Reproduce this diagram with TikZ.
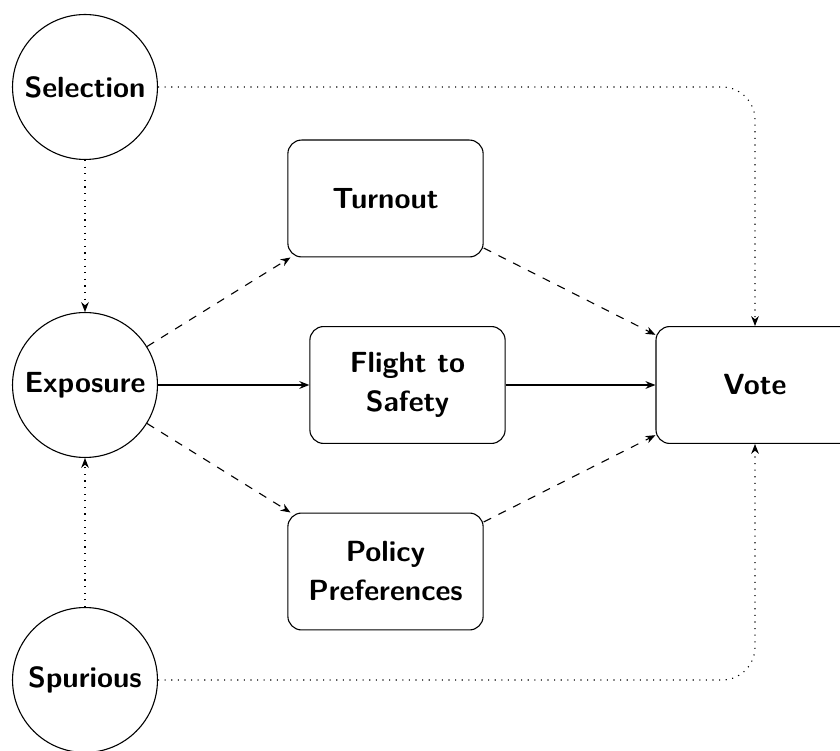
\documentclass[tikz,border=0pt]{standalone}
\usepackage{fontspec}
\usetikzlibrary{arrows.meta}
\begin{document}
\begin{tikzpicture}[x=0.3636pt,y=-0.3636pt,
  every node/.style={font=\sffamily\bfseries\fontsize{10.6}{14.2}\selectfont},
  causecircle/.style={circle,draw,inner sep=0pt,minimum size=52.7pt,line width=0.4pt},
  mechbox/.style={rectangle,draw,rounded corners=5pt,minimum width=71pt,minimum height=42.5pt,align=center,line width=0.4pt},
  tip/.style={-{Stealth[length=3.6pt,width=2.8pt]}},
  mainarrow/.style={tip,line width=0.75pt},
  dasharrow/.style={tip,dashed,line width=0.4pt},
  dotarrow/.style={tip,dotted,line width=0.4pt}]
\useasboundingbox (0,0) rectangle (840,751);
\clip (0,0) rectangle (840,751);
\node[causecircle] (sel) at (85,87) {Selection};
\node[causecircle] (exp) at (85,385) {Exposure};
\node[causecircle] (spur) at (85,680) {Spurious};
\node[mechbox] (turn) at (385.5,198.5) {Turnout};
\node[mechbox] (flight) at (407.5,385) {Flight to\\Safety};
\node[mechbox] (pol) at (385.5,571.5) {Policy\\Preferences};
\node[mechbox,minimum width=72pt] (vote) at (755,385) {Vote};
\draw[mainarrow] (exp) -- (flight);
\draw[mainarrow] (flight) -- (vote);
\draw[dasharrow] (exp) -- (turn);
\draw[dasharrow] (exp) -- (pol);
\draw[dasharrow] (turn) -- (vote);
\draw[dasharrow] (pol) -- (vote);
\draw[dotarrow] (sel) -- (exp);
\draw[dotarrow] (spur) -- (exp);
\draw[dotarrow,rounded corners=12pt] (sel.east) -| (vote.north);
\draw[dotarrow,rounded corners=12pt] (spur.east) -| (vote.south);
\end{tikzpicture}
\end{document}
